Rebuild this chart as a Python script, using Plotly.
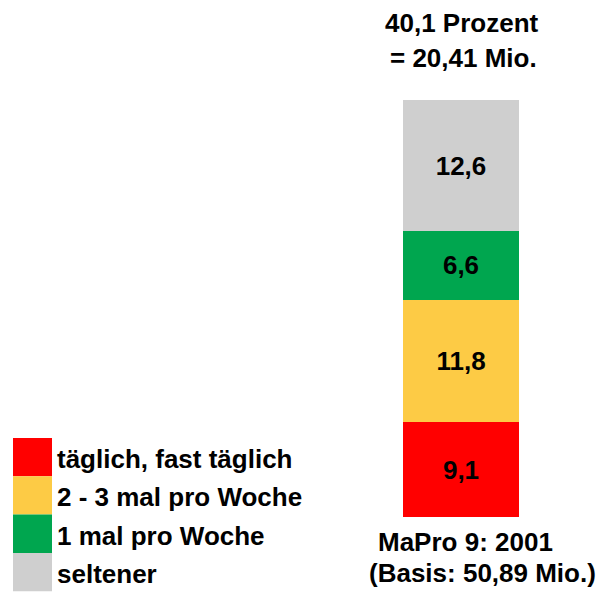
import plotly.graph_objects as go

# --- data ---
categories = ["täglich, fast täglich", "2 - 3 mal pro Woche", "1 mal pro Woche", "seltener"]
values = [9.1, 11.8, 6.6, 12.6]
colors = ["#FF0000", "#FDCB45", "#00A64F", "#CFCFCF"]
top_lines = ["40,1 Prozent", "= 20,41 Mio."]
bottom_lines = ["MaPro 9: 2001", "(Basis: 50,89 Mio.)"]

W, H = 602, 596
FONT = "Liberation Sans, Arial, sans-serif"
FS = 26

def px(x):
    return x / W

def py(y):
    return 1 - y / H

# bar geometry in pixels -> axis ranges
bar_left, bar_right = 403, 519
bar_bottom, bar_top = 517, 100
unit = (bar_bottom - bar_top) / sum(values)
bar_w = bar_right - bar_left
centre = (bar_left + bar_right) / 2
x_range = [-centre / bar_w, (W - centre) / bar_w]
y_range = [-(H - bar_bottom) / unit, bar_bottom / unit]

fig = go.Figure()
for cat, val, col in zip(categories, values, colors):
    fig.add_trace(go.Bar(
        x=[0], y=[val], width=1, name=cat,
        marker=dict(color=col, line=dict(width=0)),
        text=[f"{val:.1f}".replace(".", ",")],
        textposition="inside", insidetextanchor="middle", textangle=0,
        textfont=dict(family=FONT, size=FS, color="black", weight="bold"),
        hoverinfo="skip",
    ))

shapes = []
annotations = []

# hand drawn legend: big squares plus labels
row_top, row_h = 438, 38.3
for i, (cat, col) in enumerate(zip(categories, colors)):
    y0 = row_top + i * row_h
    shapes.append(dict(type="rect", xref="paper", yref="paper",
                       x0=px(13), x1=px(52), y0=py(y0), y1=py(y0 + row_h),
                       fillcolor=col, line=dict(width=0)))
    annotations.append(dict(text=cat, xref="paper", yref="paper",
                            x=px(55), y=py(y0 + row_h / 2 + 2),
                            xanchor="left", yanchor="middle", showarrow=False,
                            font=dict(family=FONT, size=FS, color="black", weight="bold")))

# text above and below the bar
for txt, cx, cy in [(top_lines[0], 462, 23), (top_lines[1], 463, 58),
                    (bottom_lines[0], 465, 542), (bottom_lines[1], 482, 573)]:
    annotations.append(dict(text=txt, xref="paper", yref="paper",
                            x=px(cx), y=py(cy), xanchor="center", yanchor="middle",
                            showarrow=False,
                            font=dict(family=FONT, size=FS, color="black", weight="bold")))

fig.update_layout(
    width=W, height=H,
    margin=dict(l=0, r=0, t=0, b=0),
    barmode="stack",
    showlegend=False,
    plot_bgcolor="white", paper_bgcolor="white",
    xaxis=dict(range=x_range, visible=False, fixedrange=True),
    yaxis=dict(range=y_range, visible=False, fixedrange=True),
    shapes=shapes,
    annotations=annotations,
)

fig.write_html("out.html", config={"displayModeBar": False},
               post_script="document.body.style.margin='0';")
